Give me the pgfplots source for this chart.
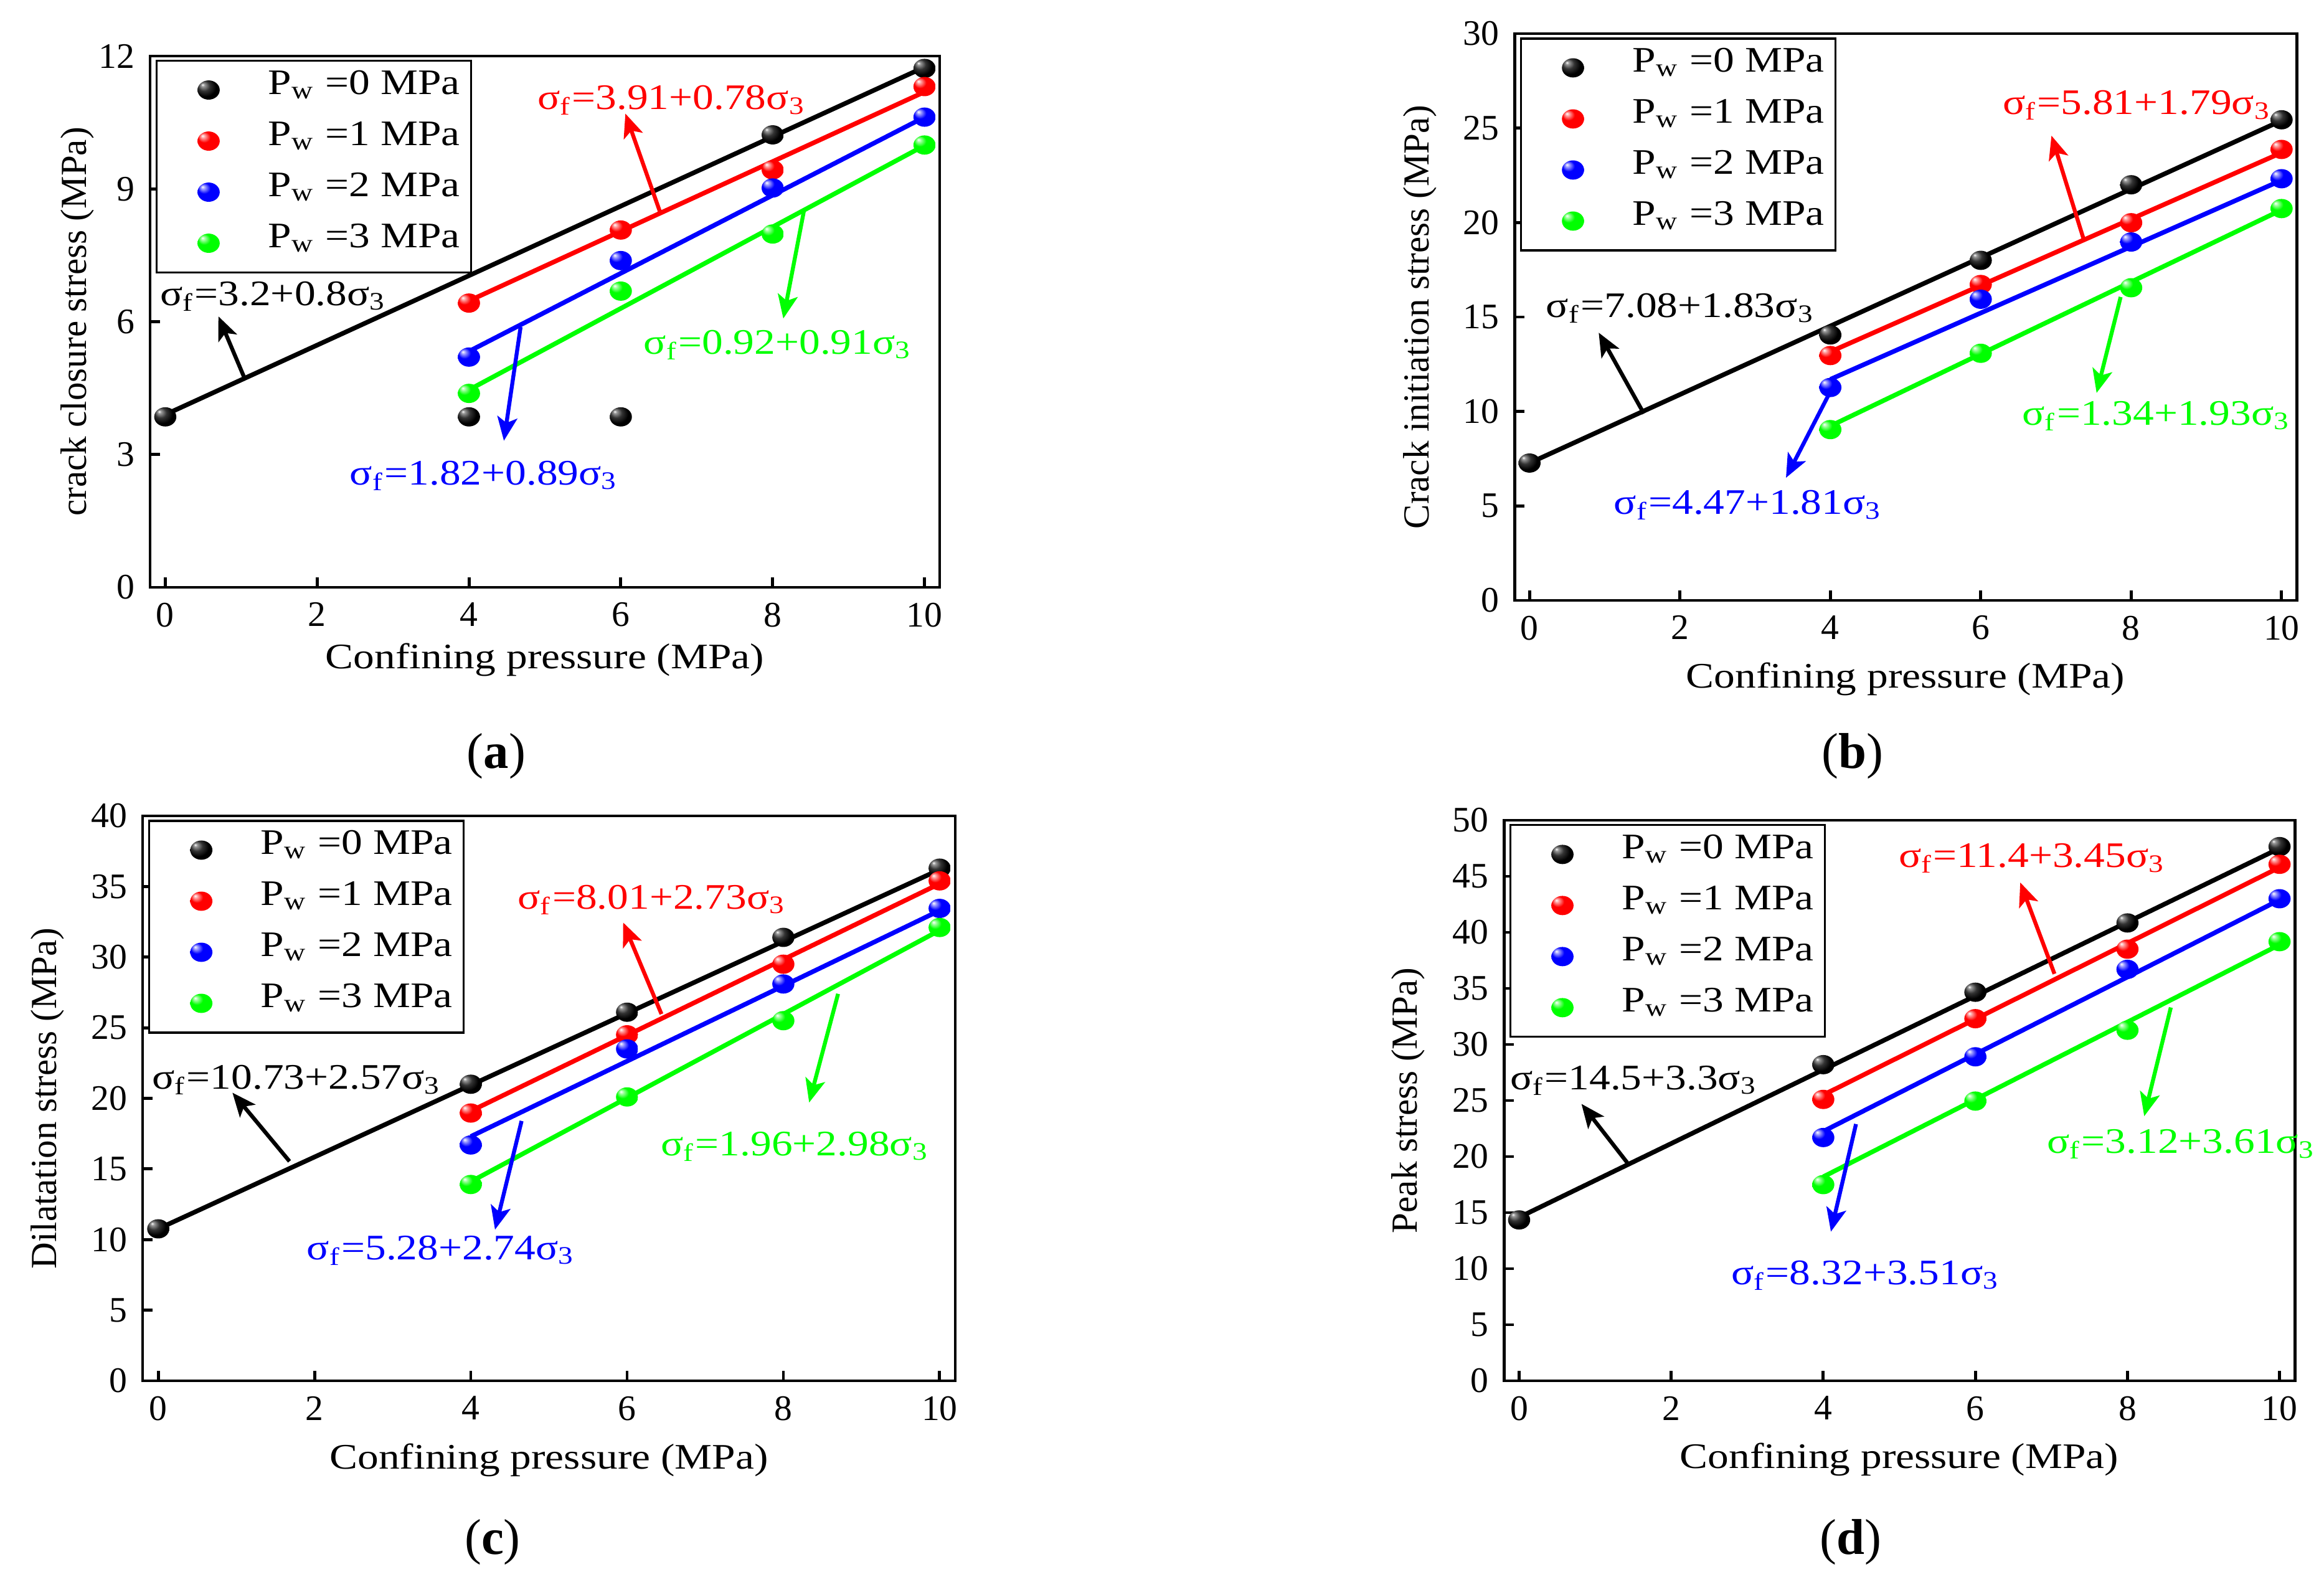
\documentclass[border=0pt]{standalone}
\usepackage{fontspec}
\setmainfont{Liberation Serif}
\newfontfamily\wide[FakeStretch=1.17]{Liberation Serif}
\usepackage{pgfplots}
\pgfplotsset{compat=1.18}
\usetikzlibrary{arrows.meta}
\definecolor{pred}{RGB}{255,0,0}
\definecolor{pblue}{RGB}{0,0,255}
\definecolor{pgreen}{RGB}{0,255,0}
\pgfdeclareradialshading{shk}{\pgfpoint{-14bp}{14bp}}{color(0bp)=(white); color(4bp)=(black!40!white); color(13bp)=(black!80!white); color(24bp)=(black); color(50bp)=(black)}
\pgfdeclareradialshading{shr}{\pgfpoint{-14bp}{14bp}}{color(0bp)=(white); color(5bp)=(pred!40!white); color(14bp)=(pred); color(40bp)=(pred); color(50bp)=(pred!85!black)}
\pgfdeclareradialshading{shb}{\pgfpoint{-14bp}{14bp}}{color(0bp)=(white); color(5bp)=(pblue!40!white); color(14bp)=(pblue); color(40bp)=(pblue); color(50bp)=(pblue!85!black)}
\pgfdeclareradialshading{shg}{\pgfpoint{-14bp}{14bp}}{color(0bp)=(white); color(5bp)=(pgreen!40!white); color(14bp)=(pgreen); color(40bp)=(pgreen); color(50bp)=(pgreen!88!black)}
\newcommand\ballmark[1]{\pgfpathellipse{\pgfpointorigin}{\pgfqpoint{1.15\pgfplotmarksize}{0pt}}{\pgfqpoint{0pt}{\pgfplotmarksize}}\pgfshadepath{#1}{0}\pgfusepath{}}
\pgfdeclareplotmark{ballk}{\ballmark{shk}}
\pgfdeclareplotmark{ballr}{\ballmark{shr}}
\pgfdeclareplotmark{ballb}{\ballmark{shb}}
\pgfdeclareplotmark{ballg}{\ballmark{shg}}
\tikzset{
  ann/.style={anchor=west, inner sep=0pt, font=\wide\fontsize{8.2}{9}\selectfont},
  arr/.style={line width=0.9pt, -{Stealth[length=1.9mm,width=1.6mm,inset=0.45mm]}},
}
\pgfplotsset{
  panel/.style={scale only axis, anchor=south west,
    xmin=-0.2, xmax=10.2, ymin=0, xtick={0,2,4,6,8,10},
    tick align=inside, xtick pos=left, ytick pos=left,
    major tick length=0.8mm, minor tick num=0,
    axis line style={line width=0.7pt},
    every tick/.style={black,line width=0.7pt},
    tick label style={font=\fontsize{8.2}{9}\selectfont},
    /pgf/number format/assume math mode=true,
    clip=false,
    xlabel={Confining pressure (MPa)},
    x label style={font=\wide\fontsize{8.2}{9}\selectfont, anchor=center},
    y label style={font=\fontsize{8.4}{10}\selectfont, anchor=center},
    legend cell align=left,
    legend style={anchor=north west, at={(axis description cs:0.007,0.993)},
      draw=black, line width=0.45pt, inner xsep=0.5mm, inner ysep=0.3mm,
      font=\wide\fontsize{8.2}{9}\selectfont,
      nodes={inner xsep=0.4mm, inner ysep=0.4mm, text height=2.0mm, text depth=1.3mm},
      row sep=0pt},
  },
  fitline/.style={line width=1.05pt, forget plot, mark=none},
  pts/.style={only marks, mark size=2.2pt,
    legend image code/.code={\path (0mm,-1mm) (7.9mm,1mm); \draw[mark repeat=2,mark phase=2,##1] plot coordinates {(0mm,0mm) (3.6mm,0mm) (7.2mm,0mm)};}},
}
\begin{document}
\begin{tikzpicture}
\useasboundingbox (0,0) rectangle (186.6mm,126.15mm);
% ---------------- (a)
\begin{axis}[panel, at={(12.05mm,79.0mm)}, width=63.4mm, height=42.65mm,
  ymax=12, ytick={0,3,6,9,12},
  ylabel={crack closure stress (MPa)},
  y label style={at={(axis description cs:-0.0923,0.5)}},
  x label style={at={(axis description cs:0.5,-0.136)}}]
\addplot[fitline, black] coordinates {(0,3.9) (10,11.75)};
\addplot[fitline, pred] coordinates {(4,6.47) (10,11.19)};
\addplot[fitline, pblue] coordinates {(4,5.33) (10,10.62)};
\addplot[fitline, pgreen] coordinates {(4,4.46) (10,9.98)};
\addplot[pts, mark=ballk] coordinates {(0,3.85) (4,3.85) (6,3.85) (8,10.22) (10,11.72)};
\addplot[pts, mark=ballr] coordinates {(4,6.42) (6,8.07) (8,9.43) (10,11.31)};
\addplot[pts, mark=ballb] coordinates {(4,5.2) (6,7.38) (8,9.02) (10,10.62)};
\addplot[pts, mark=ballg] coordinates {(4,4.38) (6,6.69) (8,7.98) (10,9.99)};
\legend{P\textsubscript{w} =0 MPa, P\textsubscript{w} =1 MPa, P\textsubscript{w} =2 MPa, P\textsubscript{w} =3 MPa}
\draw[arr, black] (axis cs:1.04,4.74) -- (axis cs:0.70,6.12);
\draw[arr, pred] (axis cs:6.52,8.46) -- (axis cs:6.06,10.7);
\draw[arr, pblue] (axis cs:4.68,5.88) -- (axis cs:4.46,3.31);
\draw[arr, pgreen] (axis cs:8.41,8.49) -- (axis cs:8.14,6.07);
\node[ann, text=black] at (axis cs:-0.08,6.57) {σ\textsubscript{f}=3.2+0.8σ\textsubscript{3}};
\node[ann, text=pred] at (axis cs:4.89,11.0) {σ\textsubscript{f}=3.91+0.78σ\textsubscript{3}};
\node[ann, text=pblue] at (axis cs:2.42,2.52) {σ\textsubscript{f}=1.82+0.89σ\textsubscript{3}};
\node[ann, text=pgreen] at (axis cs:6.29,5.48) {σ\textsubscript{f}=0.92+0.91σ\textsubscript{3}};
\end{axis}
% ---------------- (b)
\begin{axis}[panel, at={(121.6mm,77.95mm)}, width=62.8mm, height=45.5mm,
  ymax=30, ytick={0,5,...,30},
  ylabel={Crack initiation stress (MPa)},
  y label style={at={(axis description cs:-0.121,0.5)}},
  x label style={at={(axis description cs:0.5,-0.1385)}}]
\addplot[fitline, black] coordinates {(0,7.27) (10,25.4)};
\addplot[fitline, pred] coordinates {(4,13.16) (10,23.7)};
\addplot[fitline, pblue] coordinates {(4,11.7) (10,22.24)};
\addplot[fitline, pgreen] coordinates {(4,9.23) (10,20.67)};
\addplot[pts, mark=ballk] coordinates {(0,7.27) (4,14.05) (6,18.0) (8,22.0) (10,25.44)};
\addplot[pts, mark=ballr] coordinates {(4,12.96) (6,16.72) (8,19.99) (10,23.87)};
\addplot[pts, mark=ballb] coordinates {(4,11.27) (6,15.94) (8,18.97) (10,22.32)};
\addplot[pts, mark=ballg] coordinates {(4,9.04) (6,13.08) (8,16.55) (10,20.74)};
\legend{P\textsubscript{w} =0 MPa, P\textsubscript{w} =1 MPa, P\textsubscript{w} =2 MPa, P\textsubscript{w} =3 MPa}
\draw[arr, black] (axis cs:1.52,9.89) -- (axis cs:0.92,14.17);
\draw[arr, pred] (axis cs:7.37,19.09) -- (axis cs:6.94,24.6);
\draw[arr, pblue] (axis cs:3.99,10.98) -- (axis cs:3.41,6.49);
\draw[arr, pgreen] (axis cs:7.86,16.06) -- (axis cs:7.54,10.98);
\node[ann, text=black] at (axis cs:0.21,15.46) {σ\textsubscript{f}=7.08+1.83σ\textsubscript{3}};
\node[ann, text=pred] at (axis cs:6.28,26.2) {σ\textsubscript{f}=5.81+1.79σ\textsubscript{3}};
\node[ann, text=pblue] at (axis cs:1.11,5.04) {σ\textsubscript{f}=4.47+1.81σ\textsubscript{3}};
\node[ann, text=pgreen] at (axis cs:6.54,9.77) {σ\textsubscript{f}=1.34+1.93σ\textsubscript{3}};
\end{axis}
% ---------------- (c)
\begin{axis}[panel, at={(11.45mm,15.3mm)}, width=65.25mm, height=45.35mm,
  ymax=40, ytick={0,5,...,40},
  ylabel={Dilatation stress (MPa)},
  y label style={at={(axis description cs:-0.117,0.5)}},
  x label style={at={(axis description cs:0.5,-0.14)}}]
\addplot[fitline, black] coordinates {(0,10.76) (10,36.2)};
\addplot[fitline, pred] coordinates {(4,19.1) (10,35.2)};
\addplot[fitline, pblue] coordinates {(4,17.3) (10,33.3)};
\addplot[fitline, pgreen] coordinates {(4,14.1) (10,31.9)};
\addplot[pts, mark=ballk] coordinates {(0,10.76) (4,21.0) (6,26.1) (8,31.4) (10,36.3)};
\addplot[pts, mark=ballr] coordinates {(4,18.96) (6,24.5) (8,29.5) (10,35.4)};
\addplot[pts, mark=ballb] coordinates {(4,16.7) (6,23.5) (8,28.1) (10,33.45)};
\addplot[pts, mark=ballg] coordinates {(4,13.9) (6,20.1) (8,25.5) (10,32.1)};
\legend{P\textsubscript{w} =0 MPa, P\textsubscript{w} =1 MPa, P\textsubscript{w} =2 MPa, P\textsubscript{w} =3 MPa}
\draw[arr, black] (axis cs:1.68,15.54) -- (axis cs:0.95,20.4);
\draw[arr, pred] (axis cs:6.44,25.97) -- (axis cs:5.95,32.45);
\draw[arr, pblue] (axis cs:4.65,18.4) -- (axis cs:4.31,10.7);
\draw[arr, pgreen] (axis cs:8.7,27.4) -- (axis cs:8.33,19.7);
\node[ann, text=black] at (axis cs:-0.09,21.3) {σ\textsubscript{f}=10.73+2.57σ\textsubscript{3}};
\node[ann, text=pred] at (axis cs:4.59,34.06) {σ\textsubscript{f}=8.01+2.73σ\textsubscript{3}};
\node[ann, text=pblue] at (axis cs:1.89,9.24) {σ\textsubscript{f}=5.28+2.74σ\textsubscript{3}};
\node[ann, text=pgreen] at (axis cs:6.42,16.6) {σ\textsubscript{f}=1.96+2.98σ\textsubscript{3}};
\end{axis}
% ---------------- (d)
\begin{axis}[panel, at={(120.75mm,15.3mm)}, width=63.5mm, height=45.0mm,
  ymax=50, ytick={0,5,...,50},
  ylabel={Peak stress (MPa)},
  y label style={at={(axis description cs:-0.121,0.5)}},
  x label style={at={(axis description cs:0.5,-0.141)}}]
\addplot[fitline, black] coordinates {(0,14.58) (10,47.5)};
\addplot[fitline, pred] coordinates {(4,25.5) (10,45.8)};
\addplot[fitline, pblue] coordinates {(4,22.25) (10,42.9)};
\addplot[fitline, pgreen] coordinates {(4,18.2) (10,38.9)};
\addplot[pts, mark=ballk] coordinates {(0,14.35) (4,28.2) (6,34.66) (8,40.84) (10,47.65)};
\addplot[pts, mark=ballr] coordinates {(4,25.1) (6,32.3) (8,38.5) (10,46.07)};
\addplot[pts, mark=ballb] coordinates {(4,21.7) (6,28.9) (8,36.7) (10,43.0)};
\addplot[pts, mark=ballg] coordinates {(4,17.5) (6,24.95) (8,31.27) (10,39.17)};
\legend{P\textsubscript{w} =0 MPa, P\textsubscript{w} =1 MPa, P\textsubscript{w} =2 MPa, P\textsubscript{w} =3 MPa}
\draw[arr, black] (axis cs:1.44,19.3) -- (axis cs:0.82,24.7);
\draw[arr, pred] (axis cs:7.04,36.3) -- (axis cs:6.59,44.45);
\draw[arr, pblue] (axis cs:4.43,22.9) -- (axis cs:4.1,13.3);
\draw[arr, pgreen] (axis cs:8.57,33.3) -- (axis cs:8.22,23.6);
\node[ann, text=black] at (axis cs:-0.13,26.8) {σ\textsubscript{f}=14.5+3.3σ\textsubscript{3}};
\node[ann, text=pred] at (axis cs:4.98,46.6) {σ\textsubscript{f}=11.4+3.45σ\textsubscript{3}};
\node[ann, text=pblue] at (axis cs:2.78,9.39) {σ\textsubscript{f}=8.32+3.51σ\textsubscript{3}};
\node[ann, text=pgreen] at (axis cs:6.93,21.1) {σ\textsubscript{f}=3.12+3.61σ\textsubscript{3}};
\end{axis}
% panel letters
\node[font=\fontsize{11.5}{13}\selectfont] at (39.85mm,65.45mm) {(\textbf{a})};
\node[font=\fontsize{11.5}{13}\selectfont] at (148.75mm,65.45mm) {(\textbf{b})};
\node[font=\fontsize{11.5}{13}\selectfont] at (39.55mm,2.35mm) {(\textbf{c})};
\node[font=\fontsize{11.5}{13}\selectfont] at (148.6mm,2.35mm) {(\textbf{d})};
\end{tikzpicture}
\end{document}
